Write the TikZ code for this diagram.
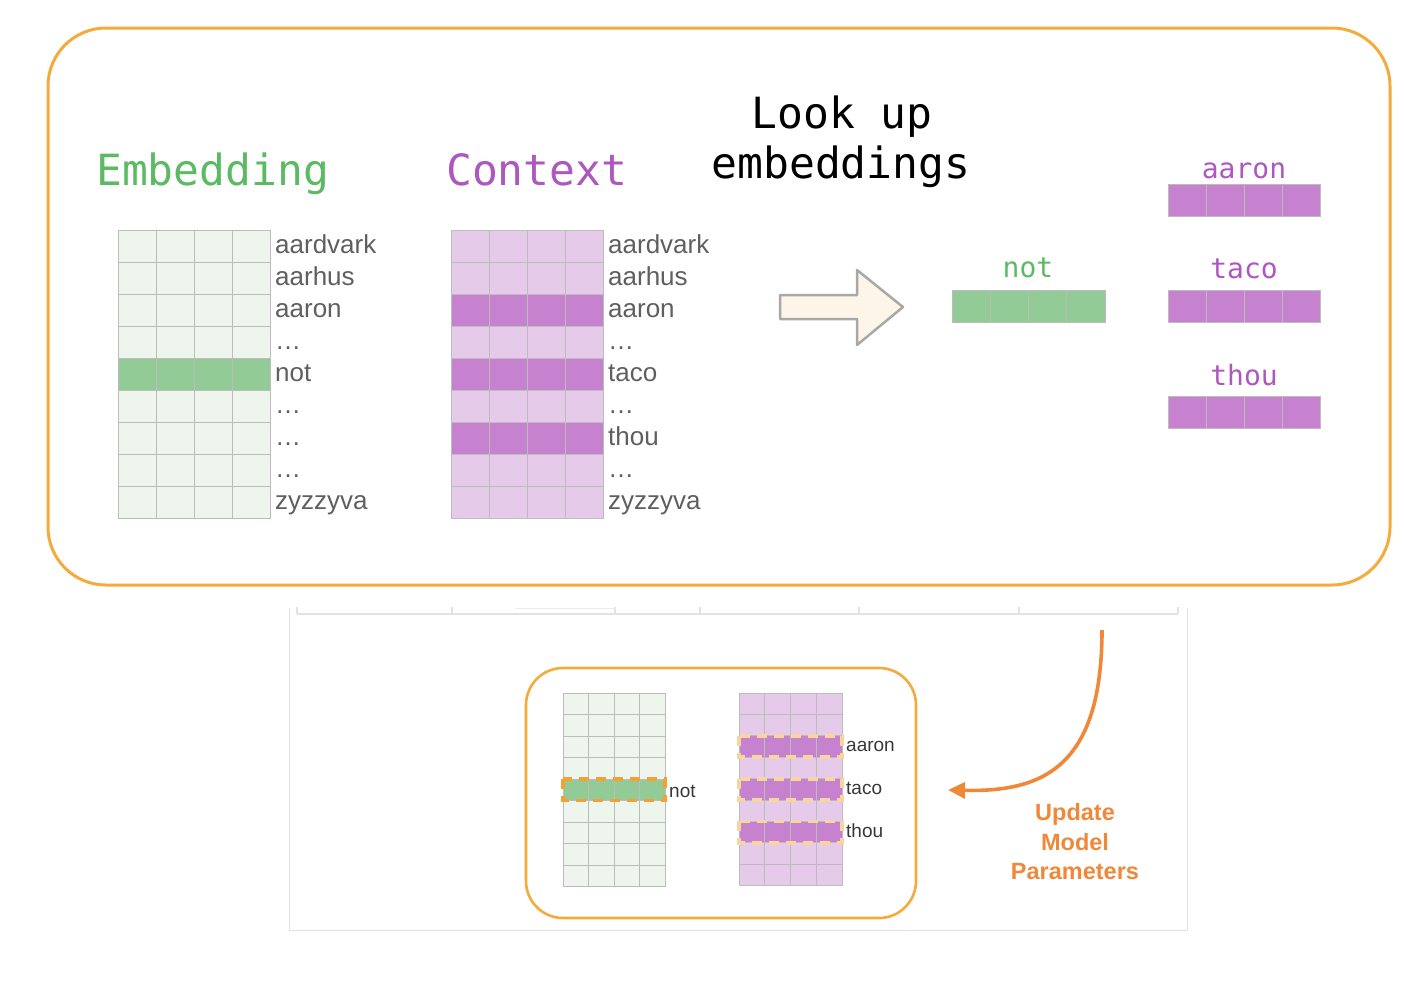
\documentclass[tikz,border=0pt]{standalone}
\usepackage{fontspec}
\setmainfont{Liberation Sans}
\newfontfamily\monof{DejaVu Sans Mono}
\usetikzlibrary{arrows.meta}
\definecolor{frameorange}{RGB}{245,170,60}
\definecolor{updorange}{RGB}{240,136,58}
\definecolor{lgreen}{RGB}{237,245,236}
\definecolor{dgreen}{RGB}{147,203,150}
\definecolor{lpurple}{RGB}{230,202,234}
\definecolor{dpurple}{RGB}{198,130,206}
\definecolor{gridgray}{RGB}{188,188,188}
\definecolor{titlegreen}{RGB}{92,186,99}
\definecolor{titlepurple}{RGB}{172,88,190}
\definecolor{wordgray}{RGB}{95,95,95}
\definecolor{smallword}{RGB}{55,55,55}
\definecolor{arrowfill}{RGB}{253,245,232}
\definecolor{arrowgray}{RGB}{168,168,168}
\definecolor{dashdark}{RGB}{245,160,50}
\definecolor{dashlight}{RGB}{250,212,160}
\definecolor{faint}{RGB}{226,226,226}
\begin{document}
\begin{tikzpicture}[x=1pt,y=-1pt,
  cell/.style={draw=gridgray, line width=1},
  bigword/.style={anchor=base west, inner sep=0, text=wordgray, font=\fontsize{26}{30}\selectfont},
  smword/.style={anchor=base west, inner sep=0, text=smallword, font=\fontsize{19}{22}\selectfont},
  monotitle/.style={anchor=base, inner sep=0, font=\monof\fontsize{43}{50}\selectfont},
  veclabel/.style={anchor=base, inner sep=0, font=\monof\fontsize{28}{32}\selectfont},
  updtext/.style={anchor=base, inner sep=0, text=updorange, font=\bfseries\fontsize{23.5}{29}\selectfont},
  hidark/.style={draw=dashdark, line width=3.2, dash pattern=on 10pt off 7pt},
  hilight/.style={draw=dashlight, line width=3.8, dash pattern=on 10pt off 7pt},
  frame/.style={draw=frameorange, line width=3}
]
\useasboundingbox (0,0) rectangle (1424,980);

% ---------- top frame ----------
\draw[frame, rounded corners=58] (48,28) rectangle (1390,585);

% ---------- titles ----------
\node[monotitle, text=titlegreen, anchor=base west] (embtitle) at (96,185) {Embedding};
\node[monotitle, text=titlepurple, anchor=base west] (ctxtitle) at (446,185) {Context};
\node[monotitle] (look1) at (842,128) {Look up};
\node[monotitle] (look2) at (841,178) {embeddings};

% ---------- embedding grid ----------
\foreach \r in {0,...,8} {
  \foreach \c in {0,...,3} {
    \draw[cell, fill=lgreen] (118+38*\c, 230+32*\r) rectangle ++(38,32);
  }
}
\foreach \c in {0,...,3} {
  \draw[cell, fill=dgreen] (118+38*\c, 230+32*4) rectangle ++(38,32);
}
\foreach \r/\w in {0/aardvark,1/aarhus,2/aaron,3/…,4/not,5/…,6/…,7/…,8/zyzzyva} {
  \node[bigword] (ew\r) at (275, 253+32*\r) {\w};
}

% ---------- context grid ----------
\foreach \r in {0,...,8} {
  \foreach \c in {0,...,3} {
    \draw[cell, fill=lpurple] (451+38*\c, 230+32*\r) rectangle ++(38,32);
  }
}
\foreach \r in {2,4,6} {
  \foreach \c in {0,...,3} {
    \draw[cell, fill=dpurple] (451+38*\c, 230+32*\r) rectangle ++(38,32);
  }
}
\foreach \r/\w in {0/aardvark,1/aarhus,2/aaron,3/…,4/taco,5/…,6/thou,7/…,8/zyzzyva} {
  \node[bigword] (cw\r) at (608, 253+32*\r) {\w};
}

% ---------- block arrow ----------
\draw[draw=arrowgray, fill=arrowfill, line width=2.5, line join=round]
  (780,295) -- (857,295) -- (857,270) -- (903,307) -- (857,345) -- (857,319) -- (780,319) -- cycle;

% ---------- looked-up vectors ----------
\node[veclabel, text=titlegreen] (notlab) at (1028,277) {not};
\foreach \c in {0,...,3} {
  \draw[cell, fill=dgreen] (952+38.25*\c, 290) rectangle ++(38.25,32);
}
\foreach \y/\w/\b in {184/aaron/178, 290/taco/278, 396/thou/385} {
  \node[veclabel, text=titlepurple] (v\w) at (1244,\b) {\w};
  \foreach \c in {0,...,3} {
    \draw[cell, fill=dpurple] (1168+38*\c, \y) rectangle ++(38,32);
  }
}

% ---------- faint frame ----------
\draw[faint, line width=1] (289,608) -- (289,930) -- (1187,930) -- (1187,608);
\draw[faint, line width=1.5] (297,614) -- (1178,614);
\foreach \x in {297,452,615,700,859,1019,1178} {
  \draw[faint, line width=1.5] (\x,607) -- (\x,614);
}
\draw[faint!70, line width=1] (515,608) -- (615,608);

% ---------- bottom frame ----------
\draw[frame, line width=2.6, rounded corners=37] (526,668) rectangle (916,918);

% small embedding grid
\foreach \r in {0,...,8} {
  \foreach \c in {0,...,3} {
    \draw[cell, line width=0.8, fill=lgreen] (563+25.5*\c, 693+21.5*\r) rectangle ++(25.5,21.5);
  }
}
\foreach \c in {0,...,3} {
  \draw[cell, line width=0.8, fill=dgreen] (563+25.5*\c, 693+21.5*4) rectangle ++(25.5,21.5);
}
\draw[hidark] (563,779) rectangle (665,800.5);
\node[smword] (snot) at (669,797) {not};

% small context grid
\foreach \r in {0,...,8} {
  \foreach \c in {0,...,3} {
    \draw[cell, line width=0.8, fill=lpurple] (739+25.75*\c, 693+21.4*\r) rectangle ++(25.75,21.4);
  }
}
\foreach \r in {2,4,6} {
  \foreach \c in {0,...,3} {
    \draw[cell, line width=0.8, fill=dpurple] (739+25.75*\c, 693+21.4*\r) rectangle ++(25.75,21.4);
  }
  \draw[hilight] (739, 693+21.4*\r) rectangle (842, 693+21.4*\r+21.4);
}
\node[smword] (saaron) at (846,751) {aaron};
\node[smword] (staco) at (846,794) {taco};
\node[smword] (sthou) at (846,837) {thou};

% ---------- update arrow ----------
\coordinate (updstart) at (1102,630);
\coordinate (updend) at (948,790);
\draw[updorange, line width=3.6, -{Triangle[length=17pt,width=16pt]}]
  (updstart) .. controls (1102,770) and (1040,792) .. (updend);
\node[updtext] (upd1) at (1075,820) {Update};
\node[updtext] (upd2) at (1075,850) {Model};
\node[updtext] (upd3) at (1075,879) {Parameters};
\end{tikzpicture}
\end{document}
